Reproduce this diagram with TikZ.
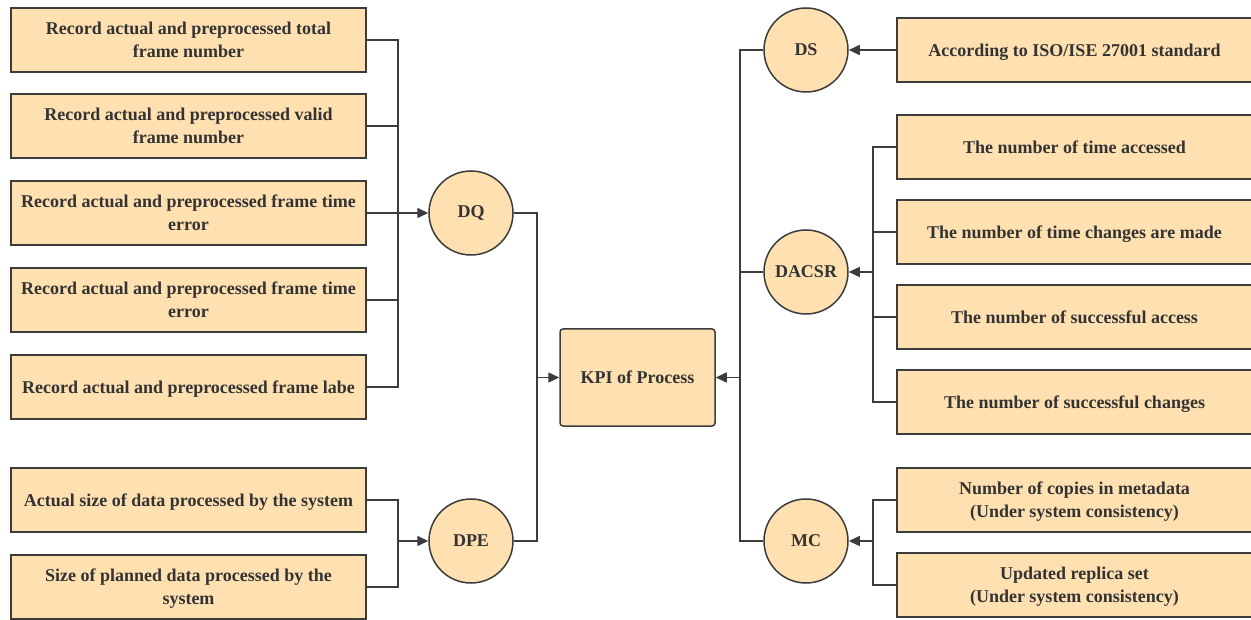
\documentclass[tikz,border=0pt]{standalone}
\usepackage{fontspec}
\setmainfont{Liberation Serif}
\usetikzlibrary{arrows.meta}
\definecolor{boxfill}{HTML}{FFE0B0}
\definecolor{boxline}{HTML}{3C3C3C}
\definecolor{txt}{HTML}{333333}
\tikzset{
  every node/.style={font=\fontsize{18}{23}\selectfont\bfseries, text=txt},
  itembox/.style={draw=boxline, fill=boxfill, line width=1.5pt, minimum width=355pt,
    minimum height=64pt, align=center, inner sep=0pt, text depth=0pt},
  metric/.style={draw=boxline, fill=boxfill, line width=1.5pt, circle,
    minimum size=84pt, inner sep=0pt},
  kpibox/.style={draw=boxline, fill=boxfill, line width=1.5pt, rounded corners=3pt,
    minimum width=155pt, minimum height=97pt, inner sep=0pt},
  link/.style={draw=boxline, line width=1.5pt},
  feed/.style={link, -{Triangle[length=11pt,width=10pt]}},
}
\begin{document}
\begin{tikzpicture}[x=1pt,y=-1pt]
\useasboundingbox (0,0) rectangle (1251,620);

% left-hand measurement boxes
\node[itembox] (l1) at (188.5,40)  {Record actual and preprocessed total\\frame number};
\node[itembox] (l2) at (188.5,126) {Record actual and preprocessed valid\\frame number};
\node[itembox] (l3) at (188.5,213) {Record actual and preprocessed frame time\\error};
\node[itembox] (l4) at (188.5,300) {Record actual and preprocessed frame time\\error};
\node[itembox] (l5) at (188.5,387) {Record actual and preprocessed frame labe};
\node[itembox] (l6) at (188.5,500) {Actual size of data processed by the system};
\node[itembox] (l7) at (188.5,587) {Size of planned data processed by the\\system};

% right-hand measurement boxes
\node[itembox] (r1) at (1074.5,50)  {According to ISO/ISE 27001 standard};
\node[itembox] (r2) at (1074.5,147) {The number of time accessed};
\node[itembox] (r3) at (1074.5,232) {The number of time changes are made};
\node[itembox] (r4) at (1074.5,317) {The number of successful access};
\node[itembox] (r5) at (1074.5,402) {The number of successful changes};
\node[itembox] (r6) at (1074.5,500) {Number of copies in metadata\\(Under system consistency)};
\node[itembox] (r7) at (1074.5,585) {Updated replica set\\(Under system consistency)};

% indicator circles
\node[metric] (DQ)    at (471,213) {DQ};
\node[metric] (DPE)   at (471,541) {DPE};
\node[metric] (DS)    at (806,50)  {DS};
\node[metric] (DACSR) at (806,272) {DACSR};
\node[metric] (MC)    at (806,541) {MC};

% central node
\node[kpibox] (KPI) at (637.5,377.5) {KPI of Process};

% junction points of the bus lines
\coordinate (jQ) at (398,213);
\coordinate (jP) at (398,541);
\coordinate (jK) at (537,377.5);
\coordinate (jR) at (740,377.5);
\coordinate (jD) at (873,272);
\coordinate (jM) at (873,541);

% DQ inputs
\draw[link] (l1.east) -| (jQ);
\draw[link] (l2.east) -| (jQ);
\draw[link] (l4.east) -| (jQ);
\draw[link] (l5.east) -| (jQ);
\draw[feed] (l3.east) -- (DQ.west);

% DPE inputs
\draw[link] (l6.east) -| (jP);
\draw[link] (l7.east) -| (jP);
\draw[feed] (jP) -- (DPE.west);

% left side into KPI
\draw[link] (DQ.east) -| (jK);
\draw[link] (DPE.east) -| (jK);
\draw[feed] (jK) -- (KPI.west);

% DS input
\draw[feed] (r1.west) -- (DS.east);

% DACSR inputs
\draw[link] (r2.west) -| (jD);
\draw[link] (r3.west) -| (jD);
\draw[link] (r4.west) -| (jD);
\draw[link] (r5.west) -| (jD);
\draw[feed] (jD) -- (DACSR.east);

% MC inputs
\draw[link] (r6.west) -| (jM);
\draw[link] (r7.west) -| (jM);
\draw[feed] (jM) -- (MC.east);

% right side into KPI
\draw[link] (DS.west) -| (jR);
\draw[link] (MC.west) -| (jR);
\draw[link] (DACSR.west) -- (DACSR.west -| jR);
\draw[feed] (jR) -- (KPI.east);
\end{tikzpicture}
\end{document}
